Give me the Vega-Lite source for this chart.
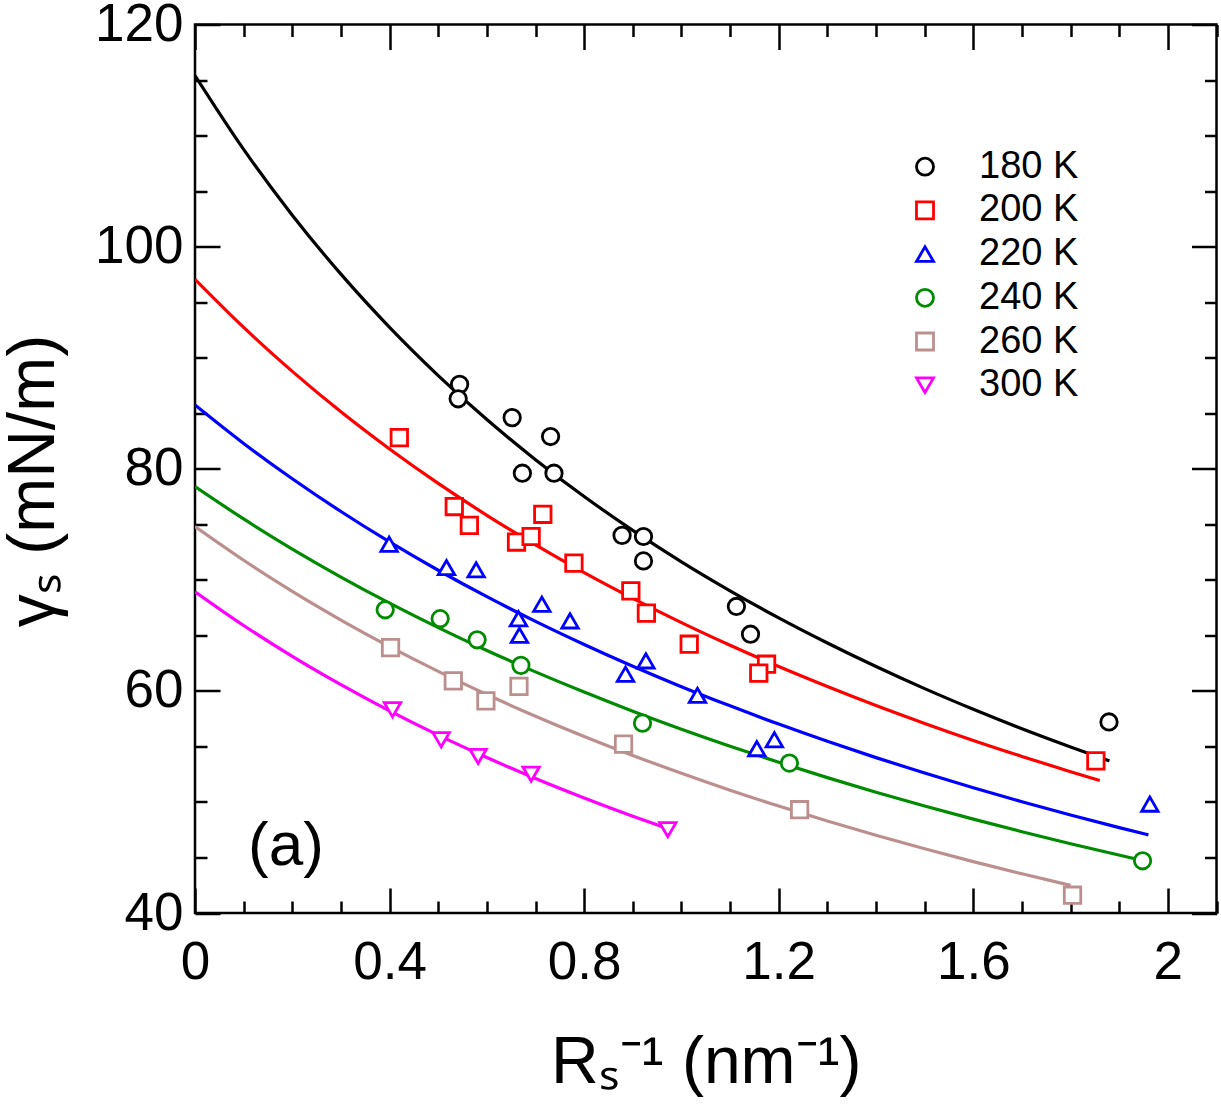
{
  "$schema": "https://vega.github.io/schema/vega-lite/v6.json",
  "width": 1021.5,
  "height": 888.5,
  "autosize": {"type": "none"},
  "padding": {"left": 195, "top": 24.5, "right": 4.5, "bottom": 194},
  "background": "white",
  "config": {
    "font": "Liberation Sans",
    "view": {"stroke": "black", "strokeWidth": 2.5},
    "axis": {
      "grid": false,
      "domain": false,
      "tickColor": "black",
      "tickWidth": 2.5,
      "labelColor": "black",
      "titleColor": "black",
      "labelFont": "Liberation Sans",
      "titleFont": "Liberation Sans",
      "titleFontWeight": "normal",
      "labelFontSize": 53,
      "titleFontSize": 66,
      "labelOverlap": false,
      "labelFlush": false,
      "labelBound": false
    }
  },
  "datasets": {
    "measured": [
      {"T": "180 K", "x": 0.544, "y": 87.6},
      {"T": "180 K", "x": 0.541, "y": 86.3},
      {"T": "180 K", "x": 0.652, "y": 84.6},
      {"T": "180 K", "x": 0.731, "y": 82.9},
      {"T": "180 K", "x": 0.673, "y": 79.6},
      {"T": "180 K", "x": 0.738, "y": 79.6},
      {"T": "180 K", "x": 0.878, "y": 74.0},
      {"T": "180 K", "x": 0.922, "y": 73.9},
      {"T": "180 K", "x": 0.922, "y": 71.7},
      {"T": "180 K", "x": 1.113, "y": 67.6},
      {"T": "180 K", "x": 1.142, "y": 65.1},
      {"T": "180 K", "x": 1.879, "y": 57.2},
      {"T": "200 K", "x": 0.420, "y": 82.8},
      {"T": "200 K", "x": 0.533, "y": 76.6},
      {"T": "200 K", "x": 0.564, "y": 74.9},
      {"T": "200 K", "x": 0.715, "y": 75.9},
      {"T": "200 K", "x": 0.661, "y": 73.4},
      {"T": "200 K", "x": 0.691, "y": 73.9},
      {"T": "200 K", "x": 0.779, "y": 71.5},
      {"T": "200 K", "x": 0.896, "y": 69.0},
      {"T": "200 K", "x": 0.928, "y": 67.0},
      {"T": "200 K", "x": 1.016, "y": 64.2},
      {"T": "200 K", "x": 1.175, "y": 62.4},
      {"T": "200 K", "x": 1.159, "y": 61.6},
      {"T": "200 K", "x": 1.852, "y": 53.7},
      {"T": "220 K", "x": 0.399, "y": 73.2},
      {"T": "220 K", "x": 0.517, "y": 71.1},
      {"T": "220 K", "x": 0.578, "y": 70.9},
      {"T": "220 K", "x": 0.713, "y": 67.8},
      {"T": "220 K", "x": 0.665, "y": 66.5},
      {"T": "220 K", "x": 0.667, "y": 65.0},
      {"T": "220 K", "x": 0.771, "y": 66.3},
      {"T": "220 K", "x": 0.927, "y": 62.7},
      {"T": "220 K", "x": 0.885, "y": 61.5},
      {"T": "220 K", "x": 1.033, "y": 59.6},
      {"T": "220 K", "x": 1.191, "y": 55.6},
      {"T": "220 K", "x": 1.155, "y": 54.8},
      {"T": "220 K", "x": 1.963, "y": 49.8},
      {"T": "240 K", "x": 0.391, "y": 67.3},
      {"T": "240 K", "x": 0.504, "y": 66.5},
      {"T": "240 K", "x": 0.580, "y": 64.6},
      {"T": "240 K", "x": 0.670, "y": 62.3},
      {"T": "240 K", "x": 0.920, "y": 57.1},
      {"T": "240 K", "x": 1.222, "y": 53.5},
      {"T": "240 K", "x": 1.948, "y": 44.7},
      {"T": "260 K", "x": 0.402, "y": 63.9},
      {"T": "260 K", "x": 0.531, "y": 60.9},
      {"T": "260 K", "x": 0.598, "y": 59.1},
      {"T": "260 K", "x": 0.666, "y": 60.4},
      {"T": "260 K", "x": 0.881, "y": 55.2},
      {"T": "260 K", "x": 1.243, "y": 49.3},
      {"T": "260 K", "x": 1.804, "y": 41.6},
      {"T": "300 K", "x": 0.406, "y": 58.3},
      {"T": "300 K", "x": 0.506, "y": 55.6},
      {"T": "300 K", "x": 0.582, "y": 54.1},
      {"T": "300 K", "x": 0.691, "y": 52.5},
      {"T": "300 K", "x": 0.972, "y": 47.5}
    ],
    "fits": [
      {"T": "180 K", "x": 0, "y": 115.4}, {"T": "180 K", "x": 0.1, "y": 108.75}, {"T": "180 K", "x": 0.2, "y": 102.83},
      {"T": "180 K", "x": 0.3, "y": 97.52}, {"T": "180 K", "x": 0.4, "y": 92.73}, {"T": "180 K", "x": 0.5, "y": 88.39},
      {"T": "180 K", "x": 0.6, "y": 84.43}, {"T": "180 K", "x": 0.7, "y": 80.82}, {"T": "180 K", "x": 0.8, "y": 77.5},
      {"T": "180 K", "x": 0.9, "y": 74.45}, {"T": "180 K", "x": 1.0, "y": 71.62}, {"T": "180 K", "x": 1.1, "y": 69.01},
      {"T": "180 K", "x": 1.2, "y": 66.57}, {"T": "180 K", "x": 1.3, "y": 64.31}, {"T": "180 K", "x": 1.4, "y": 62.19},
      {"T": "180 K", "x": 1.5, "y": 60.2}, {"T": "180 K", "x": 1.6, "y": 58.34}, {"T": "180 K", "x": 1.7, "y": 56.59},
      {"T": "180 K", "x": 1.8, "y": 54.95}, {"T": "180 K", "x": 1.88, "y": 53.7},
      {"T": "200 K", "x": 0, "y": 97.06}, {"T": "200 K", "x": 0.1, "y": 92.73}, {"T": "200 K", "x": 0.2, "y": 88.77},
      {"T": "200 K", "x": 0.3, "y": 85.13}, {"T": "200 K", "x": 0.4, "y": 81.78}, {"T": "200 K", "x": 0.5, "y": 78.68},
      {"T": "200 K", "x": 0.6, "y": 75.81}, {"T": "200 K", "x": 0.7, "y": 73.14}, {"T": "200 K", "x": 0.8, "y": 70.65},
      {"T": "200 K", "x": 0.9, "y": 68.33}, {"T": "200 K", "x": 1.0, "y": 66.15}, {"T": "200 K", "x": 1.1, "y": 64.11},
      {"T": "200 K", "x": 1.2, "y": 62.19}, {"T": "200 K", "x": 1.3, "y": 60.39}, {"T": "200 K", "x": 1.4, "y": 58.68},
      {"T": "200 K", "x": 1.5, "y": 57.07}, {"T": "200 K", "x": 1.6, "y": 55.54}, {"T": "200 K", "x": 1.7, "y": 54.1},
      {"T": "200 K", "x": 1.8, "y": 52.72}, {"T": "200 K", "x": 1.86, "y": 51.93},
      {"T": "220 K", "x": 0, "y": 85.74}, {"T": "220 K", "x": 0.1, "y": 82.28}, {"T": "220 K", "x": 0.2, "y": 79.1},
      {"T": "220 K", "x": 0.3, "y": 76.15}, {"T": "220 K", "x": 0.4, "y": 73.41}, {"T": "220 K", "x": 0.5, "y": 70.86},
      {"T": "220 K", "x": 0.6, "y": 68.48}, {"T": "220 K", "x": 0.7, "y": 66.26}, {"T": "220 K", "x": 0.8, "y": 64.18},
      {"T": "220 K", "x": 0.9, "y": 62.22}, {"T": "220 K", "x": 1.0, "y": 60.38}, {"T": "220 K", "x": 1.1, "y": 58.65},
      {"T": "220 K", "x": 1.2, "y": 57.01}, {"T": "220 K", "x": 1.3, "y": 55.46}, {"T": "220 K", "x": 1.4, "y": 53.99},
      {"T": "220 K", "x": 1.5, "y": 52.6}, {"T": "220 K", "x": 1.6, "y": 51.28}, {"T": "220 K", "x": 1.7, "y": 50.02},
      {"T": "220 K", "x": 1.8, "y": 48.83}, {"T": "220 K", "x": 1.9, "y": 47.69}, {"T": "220 K", "x": 1.96, "y": 47.03},
      {"T": "240 K", "x": 0, "y": 78.39}, {"T": "240 K", "x": 0.1, "y": 75.48}, {"T": "240 K", "x": 0.2, "y": 72.77},
      {"T": "240 K", "x": 0.3, "y": 70.25}, {"T": "240 K", "x": 0.4, "y": 67.9}, {"T": "240 K", "x": 0.5, "y": 65.7},
      {"T": "240 K", "x": 0.6, "y": 63.64}, {"T": "240 K", "x": 0.7, "y": 61.71}, {"T": "240 K", "x": 0.8, "y": 59.89},
      {"T": "240 K", "x": 0.9, "y": 58.17}, {"T": "240 K", "x": 1.0, "y": 56.55}, {"T": "240 K", "x": 1.1, "y": 55.02},
      {"T": "240 K", "x": 1.2, "y": 53.57}, {"T": "240 K", "x": 1.3, "y": 52.19}, {"T": "240 K", "x": 1.4, "y": 50.88},
      {"T": "240 K", "x": 1.5, "y": 49.64}, {"T": "240 K", "x": 1.6, "y": 48.45}, {"T": "240 K", "x": 1.7, "y": 47.32},
      {"T": "240 K", "x": 1.8, "y": 46.24}, {"T": "240 K", "x": 1.93, "y": 44.91},
      {"T": "260 K", "x": 0, "y": 74.79}, {"T": "260 K", "x": 0.1, "y": 71.76}, {"T": "260 K", "x": 0.2, "y": 68.96},
      {"T": "260 K", "x": 0.3, "y": 66.38}, {"T": "260 K", "x": 0.4, "y": 63.98}, {"T": "260 K", "x": 0.5, "y": 61.75},
      {"T": "260 K", "x": 0.6, "y": 59.67}, {"T": "260 K", "x": 0.7, "y": 57.72}, {"T": "260 K", "x": 0.8, "y": 55.9},
      {"T": "260 K", "x": 0.9, "y": 54.19}, {"T": "260 K", "x": 1.0, "y": 52.58}, {"T": "260 K", "x": 1.1, "y": 51.06},
      {"T": "260 K", "x": 1.2, "y": 49.63}, {"T": "260 K", "x": 1.3, "y": 48.28}, {"T": "260 K", "x": 1.4, "y": 47.0},
      {"T": "260 K", "x": 1.5, "y": 45.78}, {"T": "260 K", "x": 1.6, "y": 44.63}, {"T": "260 K", "x": 1.7, "y": 43.53},
      {"T": "260 K", "x": 1.8, "y": 42.49},
      {"T": "300 K", "x": 0, "y": 68.93}, {"T": "300 K", "x": 0.1, "y": 65.89}, {"T": "300 K", "x": 0.2, "y": 63.11},
      {"T": "300 K", "x": 0.3, "y": 60.56}, {"T": "300 K", "x": 0.4, "y": 58.2}, {"T": "300 K", "x": 0.5, "y": 56.02},
      {"T": "300 K", "x": 0.6, "y": 54.0}, {"T": "300 K", "x": 0.7, "y": 52.11}, {"T": "300 K", "x": 0.8, "y": 50.36},
      {"T": "300 K", "x": 0.9, "y": 48.72}, {"T": "300 K", "x": 0.97, "y": 47.63}
    ],
    "tag": [{"x": 0.187, "y": 44.3, "label": "(a)"}]
  },
  "resolve": {
    "axis": {"x": "independent", "y": "independent"},
    "legend": {"color": "independent", "shape": "independent"}
  },
  "layer": [
    {
      "data": {"name": "fits"},
      "mark": {"type": "line", "strokeWidth": 3.2, "interpolate": "monotone", "clip": true},
      "encoding": {
        "x": {
          "field": "x", "type": "quantitative",
          "scale": {"domain": [0, 2.1], "nice": false, "zero": false},
          "axis": {
            "orient": "top",
            "values": [0, 0.1, 0.2, 0.3, 0.4, 0.5, 0.6, 0.7, 0.8, 0.9, 1, 1.1, 1.2, 1.3, 1.4, 1.5, 1.6, 1.7, 1.8, 1.9, 2, 2.1],
            "tickSize": {"condition": {"test": "round(datum.value * 10) % 4 == 0", "value": -25}, "value": -12},
            "labels": false,
            "title": null
          }
        },
        "y": {
          "field": "y", "type": "quantitative",
          "scale": {"domain": [40, 120], "nice": false, "zero": false},
          "axis": {
            "orient": "right",
            "values": [40, 45, 50, 55, 60, 65, 70, 75, 80, 85, 90, 95, 100, 105, 110, 115, 120],
            "tickSize": {"condition": {"test": "datum.value % 20 == 0", "value": -25}, "value": -12},
            "labels": false,
            "title": null
          }
        },
        "color": {
          "field": "T", "type": "nominal",
          "scale": {
            "domain": ["180 K", "200 K", "220 K", "240 K", "260 K", "300 K"],
            "range": ["#000000", "#ff0000", "#0000ff", "#008b00", "#bc8f8f", "#ff00ff"]
          },
          "legend": null
        },
        "detail": {"field": "T"}
      }
    },
    {
      "data": {"name": "measured"},
      "mark": {"type": "point", "filled": false, "fill": "white", "fillOpacity": 1, "strokeWidth": 2.8, "size": 270, "opacity": 1},
      "encoding": {
        "x": {
          "field": "x", "type": "quantitative",
          "scale": {"domain": [0, 2.1], "nice": false, "zero": false},
          "axis": {
            "orient": "bottom",
            "values": [0, 0.1, 0.2, 0.3, 0.4, 0.5, 0.6, 0.7, 0.8, 0.9, 1, 1.1, 1.2, 1.3, 1.4, 1.5, 1.6, 1.7, 1.8, 1.9, 2, 2.1],
            "tickSize": {"condition": {"test": "round(datum.value * 10) % 4 == 0", "value": -25}, "value": -12},
            "labelExpr": "round(datum.value * 10) % 4 == 0 ? format(datum.value, '~g') : ''",
            "labelPadding": 48,
            "title": "Rₛ⁻¹ (nm⁻¹)",
            "titlePadding": 28
          }
        },
        "y": {
          "field": "y", "type": "quantitative",
          "scale": {"domain": [40, 120], "nice": false, "zero": false},
          "axis": {
            "orient": "left",
            "values": [40, 45, 50, 55, 60, 65, 70, 75, 80, 85, 90, 95, 100, 105, 110, 115, 120],
            "tickSize": {"condition": {"test": "datum.value % 20 == 0", "value": -25}, "value": -12},
            "labelExpr": "datum.value % 20 == 0 ? format(datum.value, 'd') : ''",
            "labelPadding": 37,
            "title": "γₛ (mN/m)",
            "titlePadding": 27,
            "titleY": 456
          }
        },
        "color": {
          "field": "T", "type": "nominal",
          "scale": {
            "domain": ["180 K", "200 K", "220 K", "240 K", "260 K", "300 K"],
            "range": ["#000000", "#ff0000", "#0000ff", "#008b00", "#bc8f8f", "#ff00ff"]
          },
          "legend": {
            "orient": "none", "legendX": 711, "legendY": 123.2, "title": null, "padding": 0,
            "labelFont": "Liberation Sans", "labelFontSize": 38, "labelColor": "black",
            "labelOffset": 35, "rowPadding": 5.7, "symbolSize": 290, "symbolStrokeWidth": 2.8,
            "symbolFillColor": "white"
          }
        },
        "shape": {
          "field": "T", "type": "nominal",
          "scale": {
            "domain": ["180 K", "200 K", "220 K", "240 K", "260 K", "300 K"],
            "range": ["circle", "square", "triangle-up", "circle", "square", "triangle-down"]
          },
          "legend": {
            "orient": "none", "legendX": 711, "legendY": 123.2, "title": null, "padding": 0,
            "labelFont": "Liberation Sans", "labelFontSize": 38, "labelColor": "black",
            "labelOffset": 35, "rowPadding": 5.7, "symbolSize": 290, "symbolStrokeWidth": 2.8,
            "symbolFillColor": "white"
          }
        }
      }
    },
    {
      "data": {"name": "tag"},
      "mark": {"type": "text", "font": "Liberation Sans", "fontSize": 62, "align": "center", "baseline": "alphabetic", "color": "black"},
      "encoding": {
        "x": {"field": "x", "type": "quantitative", "scale": {"domain": [0, 2.1], "nice": false, "zero": false}, "axis": null},
        "y": {"field": "y", "type": "quantitative", "scale": {"domain": [40, 120], "nice": false, "zero": false}, "axis": null},
        "text": {"field": "label"}
      }
    }
  ]
}
